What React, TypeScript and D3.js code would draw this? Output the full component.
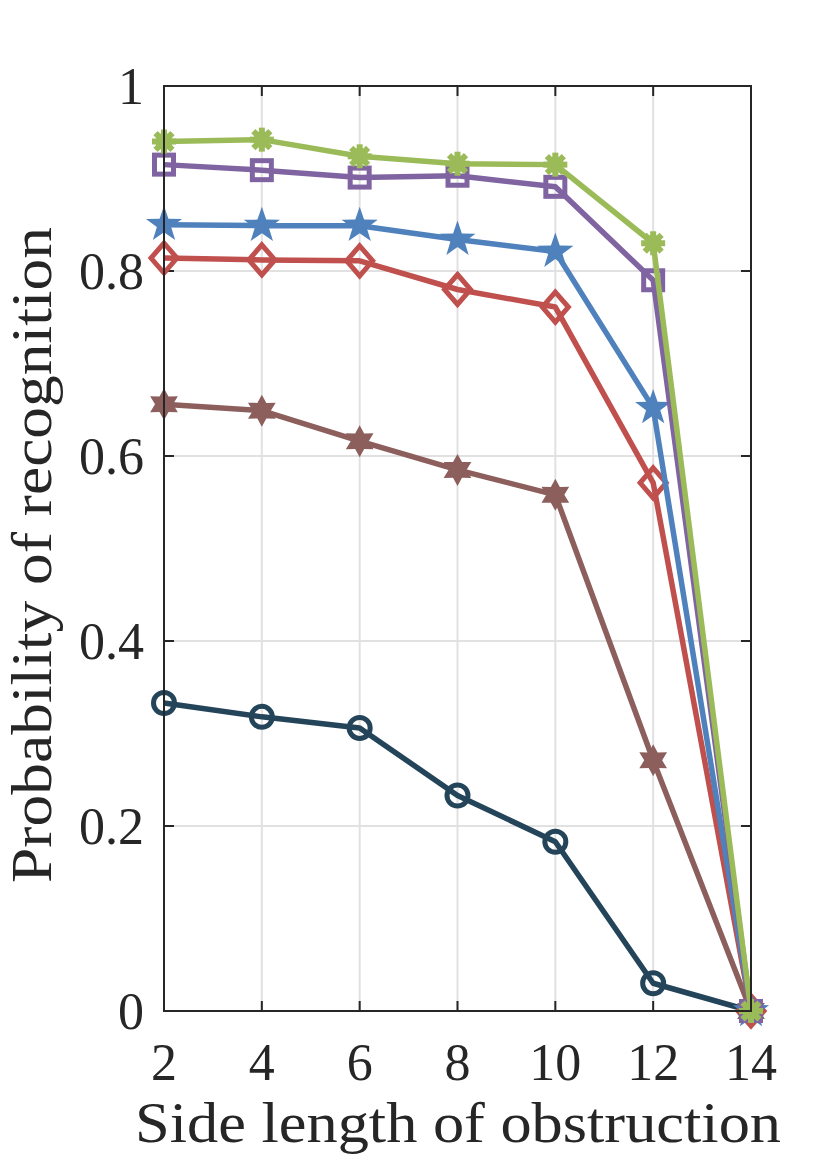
import { useEffect, useRef } from "react";
import * as d3 from "d3";

const sideLengths = [2, 4, 6, 8, 10, 12, 14];
const yTicks = [0, 0.2, 0.4, 0.6, 0.8, 1];

const circleSeries = [0.333, 0.318, 0.306, 0.233, 0.183, 0.03, 0];
const hexagramSeries = [0.656, 0.649, 0.616, 0.585, 0.558, 0.271, 0];
const diamondSeries = [0.814, 0.812, 0.811, 0.78, 0.761, 0.571, 0];
const pentagramSeries = [0.85, 0.849, 0.849, 0.834, 0.821, 0.652, 0];
const squareSeries = [0.915, 0.909, 0.901, 0.903, 0.891, 0.79, 0];
const asteriskSeries = [0.94, 0.942, 0.924, 0.916, 0.915, 0.83, 0];

type Marker = "circle" | "hexagram" | "diamond" | "pentagram" | "square" | "asterisk";

const series: { values: number[]; color: string; marker: Marker }[] = [
  { values: circleSeries, color: "#244559", marker: "circle" },
  { values: hexagramSeries, color: "#8c5f5d", marker: "hexagram" },
  { values: diamondSeries, color: "#c0504d", marker: "diamond" },
  { values: pentagramSeries, color: "#4f81bd", marker: "pentagram" },
  { values: squareSeries, color: "#8064a2", marker: "square" },
  { values: asteriskSeries, color: "#9bbb59", marker: "asterisk" },
];

const W = 830;
const H = 1162;
const margin = { left: 164, right: 79, top: 86, bottom: 151 };
const font = "'Liberation Serif', 'DejaVu Serif', serif";

function starPath(points: number, outer: number, inner: number) {
  const pts: [number, number][] = [];
  for (let i = 0; i < points * 2; i++) {
    const r = i % 2 === 0 ? outer : inner;
    const a = (Math.PI * i) / points - Math.PI / 2;
    pts.push([r * Math.cos(a), r * Math.sin(a)]);
  }
  return "M" + pts.map((p) => p.join(",")).join("L") + "Z";
}

export default function App() {
  const ref = useRef<SVGSVGElement>(null);

  useEffect(() => {
    if (!ref.current) return;
    const svg = d3.select(ref.current);
    svg.selectAll("*").remove();

    const iw = W - margin.left - margin.right;
    const ih = H - margin.top - margin.bottom;
    const x = d3.scaleLinear().domain([2, 14]).range([0, iw]);
    const y = d3.scaleLinear().domain([0, 1]).range([ih, 0]);

    const g = svg.append("g").attr("transform", `translate(${margin.left},${margin.top})`);

    // grid
    g.selectAll(".vgrid")
      .data(sideLengths)
      .enter()
      .append("line")
      .attr("x1", (d) => x(d))
      .attr("x2", (d) => x(d))
      .attr("y1", 0)
      .attr("y2", ih)
      .attr("stroke", "#e1e1e1")
      .attr("stroke-width", 2);
    g.selectAll(".hgrid")
      .data(yTicks)
      .enter()
      .append("line")
      .attr("x1", 0)
      .attr("x2", iw)
      .attr("y1", (d) => y(d))
      .attr("y2", (d) => y(d))
      .attr("stroke", "#e1e1e1")
      .attr("stroke-width", 2);

    // ticks (inside, on all sides)
    const tl = 10;
    sideLengths.forEach((d) => {
      g.append("line").attr("x1", x(d)).attr("x2", x(d)).attr("y1", ih).attr("y2", ih - tl)
        .attr("stroke", "#262626").attr("stroke-width", 2);
      g.append("line").attr("x1", x(d)).attr("x2", x(d)).attr("y1", 0).attr("y2", tl)
        .attr("stroke", "#262626").attr("stroke-width", 2);
    });
    yTicks.forEach((d) => {
      g.append("line").attr("x1", 0).attr("x2", tl).attr("y1", y(d)).attr("y2", y(d))
        .attr("stroke", "#262626").attr("stroke-width", 2);
      g.append("line").attr("x1", iw).attr("x2", iw - tl).attr("y1", y(d)).attr("y2", y(d))
        .attr("stroke", "#262626").attr("stroke-width", 2);
    });

    // lines
    const line = d3.line<number>()
      .x((_, i) => x(sideLengths[i]))
      .y((d) => y(d));

    series.forEach((s) => {
      g.append("path")
        .datum(s.values)
        .attr("d", line)
        .attr("fill", "none")
        .attr("stroke", s.color)
        .attr("stroke-width", 5.5)
        .attr("stroke-linejoin", "round");

      const m = g.selectAll(null)
        .data(s.values)
        .enter()
        .append("g")
        .attr("transform", (d, i) => `translate(${x(sideLengths[i])},${y(d)})`);

      if (s.marker === "circle") {
        m.append("circle").attr("r", 10.5).attr("fill", "none").attr("stroke", s.color).attr("stroke-width", 5);
      } else if (s.marker === "square") {
        m.append("rect").attr("x", -9.5).attr("y", -9.5).attr("width", 19).attr("height", 19)
          .attr("fill", "none").attr("stroke", s.color).attr("stroke-width", 5);
      } else if (s.marker === "diamond") {
        m.append("path").attr("d", "M0,-15L13,0L0,15L-13,0Z")
          .attr("fill", "none").attr("stroke", s.color).attr("stroke-width", 5);
      } else if (s.marker === "pentagram") {
        m.append("path").attr("d", starPath(5, 19, 7.5)).attr("fill", s.color);
      } else if (s.marker === "hexagram") {
        m.append("path").attr("d", starPath(6, 16, 9)).attr("fill", s.color);
      } else {
        [0, 45, 90, 135].forEach((a) => {
          m.append("line").attr("x1", 0).attr("y1", -12).attr("x2", 0).attr("y2", 12)
            .attr("transform", `rotate(${a})`)
            .attr("stroke", s.color).attr("stroke-width", 6);
        });
        m.append("circle").attr("r", 8.5).attr("fill", s.color);
      }
    });

    // box
    g.append("rect").attr("x", 0).attr("y", 0).attr("width", iw).attr("height", ih)
      .attr("fill", "none").attr("stroke", "#262626").attr("stroke-width", 2);

    // tick labels
    g.selectAll(".xl")
      .data(sideLengths)
      .enter()
      .append("text")
      .attr("x", (d) => x(d))
      .attr("y", ih + 69)
      .attr("text-anchor", "middle")
      .attr("font-family", font)
      .attr("font-size", 52)
      .attr("fill", "#262626")
      .text((d) => d);
    g.selectAll(".yl")
      .data(yTicks)
      .enter()
      .append("text")
      .attr("x", -20)
      .attr("y", (d) => y(d) + 18)
      .attr("text-anchor", "end")
      .attr("font-family", font)
      .attr("font-size", 52)
      .attr("fill", "#262626")
      .text((d) => d3.format("~g")(d));

    // axis titles
    svg.append("text")
      .attr("x", 458)
      .attr("y", 1142)
      .attr("text-anchor", "middle")
      .attr("font-family", font)
      .attr("font-size", 58)
      .attr("textLength", 646)
      .attr("lengthAdjust", "spacingAndGlyphs")
      .attr("fill", "#262626")
      .text("Side length of obstruction");
    svg.append("text")
      .attr("transform", `translate(51,555) rotate(-90)`)
      .attr("text-anchor", "middle")
      .attr("font-family", font)
      .attr("font-size", 56)
      .attr("textLength", 656)
      .attr("lengthAdjust", "spacingAndGlyphs")
      .attr("fill", "#262626")
      .text("Probability of recognition");
  }, []);

  return <svg ref={ref} width={W} height={H} style={{ display: "block", margin: "-8px" }} />;
}
